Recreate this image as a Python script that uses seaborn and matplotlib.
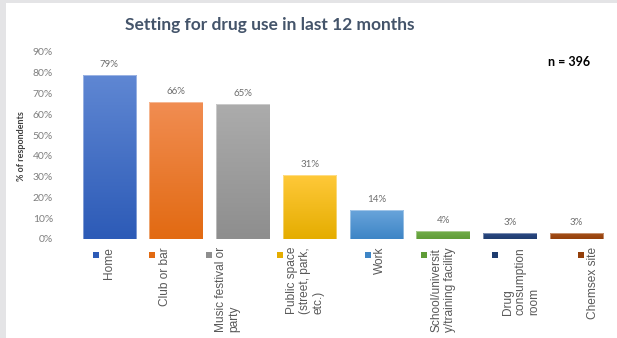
import numpy as np
import pandas as pd
import matplotlib
matplotlib.use("Agg")
import matplotlib.pyplot as plt
import seaborn as sns
from matplotlib.colors import LinearSegmentedColormap
from matplotlib.transforms import blended_transform_factory, offset_copy
from matplotlib.patches import Rectangle

# Data
settings = [
    "Home",
    "Club or bar",
    "Music festival or\nparty",
    "Public space\n(street, park,\netc.)",
    "Work",
    "School/universit\ny/training facility",
    "Drug\nconsumption\nroom",
    "Chemsex site",
]
percent = [79, 66, 65, 31, 14, 4, 3, 3]
top_colors = ["#5F87D3", "#F18D52", "#ACACAC", "#FFC93A", "#6AA5DB", "#74B04B", "#2F4C88", "#A8521C"]
bottom_colors = ["#2D5BB7", "#E26A12", "#8E8E8E", "#E5AD00", "#3E85C6", "#5F9C37", "#1F3C6F", "#933F0A"]
y_ticks = [0, 10, 20, 30, 40, 50, 60, 70, 80, 90]
title = "Setting for drug use in last 12 months"
sample_note = "n = 396"

sns.set_theme(style="white")
plt.rcParams["font.family"] = ["Lato", "DejaVu Sans"]

W, H = 617, 338
fig = plt.figure(figsize=(W / 100, H / 100), dpi=100)
fig.patch.set_facecolor("white")

# light grey frame strips along the left and top edges
fig.add_artist(Rectangle((0, 0), 6 / W, 1, transform=fig.transFigure,
                         facecolor="#E4E4E6", edgecolor="none", zorder=0))
fig.add_artist(Rectangle((0, 1 - 3 / H), 1, 3 / H, transform=fig.transFigure,
                         facecolor="#E4E4E6", edgecolor="none", zorder=0))

ax = fig.add_axes([76 / W, 1 - 239 / H, (610 - 76) / W, (239 - 52) / H])
ax.set_facecolor("none")

df = pd.DataFrame({"setting": settings, "percent": percent})
sns.barplot(data=df, x="setting", y="percent", hue="setting", palette=bottom_colors,
            legend=False, width=0.8, ax=ax, saturation=1)

# vertical gradient fill inside each bar
for patch, c_top, c_bot in zip(ax.patches, top_colors, bottom_colors):
    x0, y0 = patch.get_x(), patch.get_y()
    w, h = patch.get_width(), patch.get_height()
    cmap = LinearSegmentedColormap.from_list("g", [c_bot, c_top])
    grad = np.linspace(0, 1, 64).reshape(-1, 1)
    im = ax.imshow(grad, cmap=cmap, extent=[x0, x0 + w, y0, y0 + h],
                   origin="lower", aspect="auto", zorder=2)
    im.set_clip_path(patch)
    patch.set_edgecolor((1, 1, 1, 0.45))
    patch.set_linewidth(0.6)
    patch.set_zorder(3)
    patch.set_facecolor("none")

ax.set_xlim(-0.5, len(settings) - 0.5)
ax.set_ylim(0, 90)
ax.set_yticks(y_ticks)
ax.set_yticklabels([f"{v}%" for v in y_ticks], fontsize=7.5, color="#7F7F7F")
ax.tick_params(axis="y", length=0, pad=16.5)
ax.set_xticks([])
ax.set_xlabel("")
ax.set_ylabel("")
for s in ax.spines.values():
    s.set_visible(False)

# value labels
for i, v in enumerate(percent):
    ax.annotate(f"{v}%", (i, v), xytext=(0, 4), textcoords="offset points",
                ha="center", va="bottom", fontsize=7, color="#6E6E6E")

# category keys and rotated labels below the axis
key_shift = [-0.20, -0.36, -0.51, -0.45, -0.13, -0.28, -0.22, 0.06]
trans = blended_transform_factory(ax.transData, fig.transFigure)
label_trans = offset_copy(trans, fig=fig, x=4.7, units="points")
for i, (label, c) in enumerate(zip(settings, bottom_colors)):
    xk = i + key_shift[i]
    ax.scatter([xk], [1 - 254.5 / H], marker="s", s=14, color=c, transform=trans,
               clip_on=False, linewidths=0)
    ax.text(xk, 1 - 247 / H, label, rotation=90, ha="left", va="top",
            multialignment="left", linespacing=1.12,
            fontsize=8.6, color="#595959", family=["Liberation Sans", "DejaVu Sans"],
            transform=label_trans)

fig.text(270 / W, 1 - 25 / H, title, ha="center", va="center",
         fontsize=12.5, fontweight="bold", color="#44546A")
fig.text(569 / W, 1 - 62 / H, sample_note, ha="center", va="center",
         fontsize=9, fontweight="bold", color="#000000")
fig.text(22 / W, 1 - 146 / H, "% of respondents", ha="center", va="center",
         rotation=90, fontsize=6.5, fontweight="bold", color="#404040")

fig.savefig("out.png", dpi=100)
